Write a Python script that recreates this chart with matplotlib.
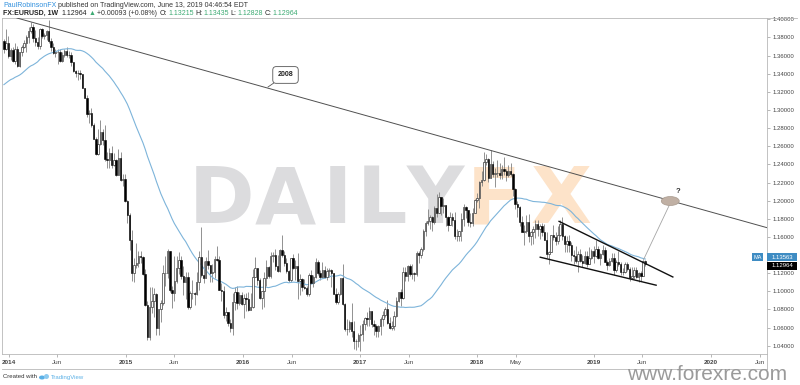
import numpy as np
import pandas as pd
import matplotlib
matplotlib.use('Agg')
import matplotlib.pyplot as plt
import matplotlib.dates as mdates
import matplotlib.transforms as mtransforms
from matplotlib.patches import Ellipse, Rectangle
from matplotlib.lines import Line2D

# ---- weekly EURUSD candles (week start 2013-12-16), open = previous close
first_open = 1.3763
close_2013 = [1.3674, 1.3743, 1.3590]
high_2013 = [1.3780, 1.3893, 1.3815]
low_2013 = [1.3626, 1.3657, 1.3573]

close_2014 = [1.3666, 1.3540, 1.3677, 1.3486, 1.3636, 1.3693, 1.3739, 1.3802,
              1.3873, 1.3913, 1.3790, 1.3749, 1.3704, 1.3888, 1.3812, 1.3832, 1.3870,
              1.3757, 1.3695, 1.3632, 1.3635, 1.3642, 1.3542, 1.3607, 1.3647, 1.3606,
              1.3605, 1.3525, 1.3431, 1.3413, 1.3410, 1.3398, 1.3242, 1.3131,
              1.2951, 1.2963, 1.2830, 1.2685, 1.2520, 1.2628, 1.2761, 1.2670, 1.2454,
              1.2446, 1.2526, 1.2389, 1.2452, 1.2288, 1.2466, 1.2228, 1.2239, 1.2001]
high_2014 = [1.3687, 1.3699, 1.3740, 1.3701, 1.3620, 1.3717, 1.3773, 1.3825,
             1.3914, 1.3967, 1.3946, 1.3877, 1.3810, 1.3906, 1.3905, 1.3852, 1.3886,
             1.3993, 1.3795, 1.3735, 1.3670, 1.3670, 1.3677, 1.3643, 1.3677, 1.3700,
             1.3646, 1.3635, 1.3533, 1.3444, 1.3439, 1.3444, 1.3397, 1.3230,
             1.3161, 1.2995, 1.3017, 1.2858, 1.2700, 1.2792, 1.2886, 1.2792, 1.2837,
             1.2532, 1.2577, 1.2600, 1.2530, 1.2456, 1.2570, 1.2533, 1.2292, 1.2290]
low_2014 = [1.3547, 1.3525, 1.3508, 1.3475, 1.3479, 1.3590, 1.3687, 1.3642,
            1.3737, 1.3850, 1.3749, 1.3703, 1.3671, 1.3673, 1.3792, 1.3784, 1.3772,
            1.3739, 1.3647, 1.3617, 1.3586, 1.3503, 1.3524, 1.3528, 1.3589, 1.3589,
            1.3573, 1.3490, 1.3421, 1.3367, 1.3333, 1.3345, 1.3238, 1.3129,
            1.2920, 1.2859, 1.2812, 1.2685, 1.2500, 1.2498, 1.2614, 1.2614, 1.2440,
            1.2357, 1.2358, 1.2359, 1.2380, 1.2269, 1.2280, 1.2220, 1.2165, 1.1989]

close_2015 = [1.1840, 1.1566, 1.1205, 1.1291, 1.1316, 1.1388, 1.1380, 1.1196,
              1.0844, 1.0495, 1.0822, 1.0889, 1.0971, 1.0601, 1.0808, 1.0873, 1.1197,
              1.1198, 1.1447, 1.1015, 1.0986, 1.1113, 1.1262, 1.1349, 1.1165, 1.1106,
              1.1159, 1.0829, 1.0983, 1.0985, 1.0969, 1.1106, 1.1384, 1.1185, 1.1149,
              1.1337, 1.1294, 1.1199, 1.1208, 1.1358, 1.1350, 1.1017, 1.1004,
              1.0740, 1.0768, 1.0646, 1.0592, 1.0882, 1.0989, 1.0868, 1.0964, 1.0862]
high_2015 = [1.2004, 1.1868, 1.1680, 1.1367, 1.1534, 1.1443, 1.1450, 1.1393,
             1.1246, 1.0890, 1.1043, 1.1052, 1.1036, 1.0982, 1.0810, 1.0899, 1.1290,
             1.1392, 1.1467, 1.1450, 1.1062, 1.1385, 1.1387, 1.1436, 1.1388, 1.1278,
             1.1216, 1.1215, 1.1000, 1.1128, 1.0996, 1.1215, 1.1440, 1.1714, 1.1332,
             1.1374, 1.1460, 1.1285, 1.1300, 1.1387, 1.1495, 1.1387, 1.1095,
             1.1059, 1.0829, 1.0777, 1.0691, 1.0982, 1.1043, 1.1060, 1.0993, 1.0988]
low_2015 = [1.1754, 1.1460, 1.1114, 1.1098, 1.1262, 1.1270, 1.1316, 1.1175,
            1.0840, 1.0462, 1.0462, 1.0763, 1.0713, 1.0520, 1.0520, 1.0660, 1.0850,
            1.1063, 1.1150, 1.0990, 1.0818, 1.0890, 1.1090, 1.1186, 1.1134, 1.0955,
            1.0916, 1.0808, 1.0807, 1.0912, 1.0848, 1.0960, 1.1015, 1.1155, 1.1087,
            1.1145, 1.1250, 1.1104, 1.1105, 1.1147, 1.1340, 1.1016, 1.0897,
            1.0706, 1.0673, 1.0617, 1.0557, 1.0524, 1.0796, 1.0804, 1.0848, 1.0852]

close_2016 = [1.0923, 1.0915, 1.0797, 1.0831, 1.1156, 1.1257, 1.1130, 1.0932, 1.1006,
              1.1152, 1.1268, 1.1165, 1.1393, 1.1398, 1.1283, 1.1225, 1.1455,
              1.1398, 1.1312, 1.1224, 1.1129, 1.1365, 1.1252, 1.1278, 1.1117, 1.1137,
              1.1050, 1.1036, 1.0975, 1.1175, 1.1088, 1.1161, 1.1324, 1.1197, 1.1153,
              1.1232, 1.1153, 1.1228, 1.1238, 1.1200, 1.0971, 1.0887, 1.0974, 1.1143,
              1.0856, 1.0587, 1.0588, 1.0662, 1.0561, 1.0451, 1.0454, 1.0517]
high_2016 = [1.0971, 1.0986, 1.0990, 1.0985, 1.1245, 1.1376, 1.1217, 1.1150, 1.1007,
             1.1218, 1.1342, 1.1276, 1.1438, 1.1434, 1.1464, 1.1399, 1.1463,
             1.1616, 1.1448, 1.1368, 1.1237, 1.1368, 1.1416, 1.1347, 1.1427, 1.1186,
             1.1143, 1.1131, 1.1061, 1.1198, 1.1236, 1.1176, 1.1366, 1.1342, 1.1240,
             1.1327, 1.1283, 1.1257, 1.1258, 1.1250, 1.1200, 1.1040, 1.0990, 1.1146,
             1.1300, 1.0867, 1.0694, 1.0684, 1.0874, 1.0670, 1.0474, 1.0539]
low_2016 = [1.0711, 1.0778, 1.0778, 1.0804, 1.0813, 1.1155, 1.1067, 1.0921, 1.0810,
            1.0822, 1.1058, 1.1143, 1.1145, 1.1327, 1.1233, 1.1218, 1.1217,
            1.1383, 1.1283, 1.1200, 1.1100, 1.1099, 1.1251, 1.1130, 1.0912, 1.0957,
            1.0999, 1.1021, 1.0951, 1.0953, 1.1087, 1.1045, 1.1146, 1.1180, 1.1121,
            1.1150, 1.1147, 1.1123, 1.1161, 1.1048, 1.0969, 1.0860, 1.0859, 1.0963,
            1.0848, 1.0568, 1.0517, 1.0552, 1.0500, 1.0366, 1.0352, 1.0389]

close_2017 = [1.0531, 1.0642, 1.0703, 1.0696, 1.0784, 1.0641, 1.0613, 1.0561, 1.0620,
              1.0700, 1.0738, 1.0800, 1.0653, 1.0591, 1.0616, 1.0726, 1.0897,
              1.0997, 1.0932, 1.1208, 1.1169, 1.1283, 1.1196, 1.1198, 1.1196, 1.1426,
              1.1400, 1.1471, 1.1666, 1.1754, 1.1776, 1.1819, 1.1761, 1.1924, 1.1860,
              1.2036, 1.1944, 1.1951, 1.1815, 1.1731, 1.1820, 1.1786, 1.1606, 1.1612,
              1.1665, 1.1793, 1.1931, 1.1899, 1.1768, 1.1750, 1.1865, 1.2005]
high_2017 = [1.0629, 1.0685, 1.0718, 1.0776, 1.0829, 1.0781, 1.0680, 1.0636, 1.0630,
             1.0714, 1.0782, 1.0825, 1.0906, 1.0718, 1.0678, 1.0778, 1.0939,
             1.0997, 1.1023, 1.1264, 1.1268, 1.1285, 1.1296, 1.1296, 1.1215, 1.1445,
             1.1445, 1.1489, 1.1683, 1.1777, 1.1910, 1.1846, 1.1826, 1.1940, 1.2070,
             1.2092, 1.2033, 1.2034, 1.1955, 1.1832, 1.1880, 1.1860, 1.1880, 1.1690,
             1.1668, 1.1861, 1.1961, 1.1940, 1.1900, 1.1862, 1.1914, 1.2023]
low_2017 = [1.0340, 1.0454, 1.0578, 1.0620, 1.0618, 1.0604, 1.0521, 1.0494, 1.0494,
            1.0524, 1.0614, 1.0718, 1.0640, 1.0589, 1.0571, 1.0569, 1.0720,
            1.0877, 1.0838, 1.0920, 1.1109, 1.1116, 1.1171, 1.1131, 1.1118, 1.1165,
            1.1312, 1.1369, 1.1445, 1.1612, 1.1729, 1.1688, 1.1662, 1.1742, 1.1823,
            1.1867, 1.1838, 1.1860, 1.1718, 1.1668, 1.1729, 1.1717, 1.1574, 1.1554,
            1.1553, 1.1553, 1.1716, 1.1810, 1.1717, 1.1713, 1.1718, 1.1860]

close_2018 = [1.2032, 1.2201, 1.2223, 1.2427, 1.2459, 1.2252, 1.2404, 1.2295, 1.2310,
              1.2307, 1.2288, 1.2352, 1.2323, 1.2281, 1.2331, 1.2289, 1.2131, 1.1960,
              1.1932, 1.1767, 1.1654, 1.1660, 1.1768, 1.1610, 1.1655, 1.1684,
              1.1745, 1.1686, 1.1719, 1.1659, 1.1566, 1.1411, 1.1439, 1.1621, 1.1598,
              1.1553, 1.1625, 1.1746, 1.1605, 1.1524, 1.1560, 1.1513, 1.1402, 1.1389,
              1.1336, 1.1417, 1.1339, 1.1313, 1.1394, 1.1305, 1.1369, 1.1443]
high_2018 = [1.2089, 1.2218, 1.2324, 1.2537, 1.2520, 1.2468, 1.2556, 1.2438, 1.2356,
             1.2446, 1.2413, 1.2388, 1.2476, 1.2345, 1.2396, 1.2414, 1.2302, 1.2145,
             1.2000, 1.1938, 1.1831, 1.1727, 1.1840, 1.1852, 1.1661, 1.1720,
             1.1791, 1.1791, 1.1746, 1.1751, 1.1739, 1.1649, 1.1446, 1.1623, 1.1735,
             1.1650, 1.1721, 1.1791, 1.1815, 1.1624, 1.1609, 1.1621, 1.1548, 1.1455,
             1.1500, 1.1440, 1.1472, 1.1402, 1.1444, 1.1442, 1.1486, 1.1472]
low_2018 = [1.1983, 1.1916, 1.2165, 1.2215, 1.2390, 1.2206, 1.2250, 1.2259, 1.2154,
            1.2260, 1.2240, 1.2240, 1.2285, 1.2214, 1.2260, 1.2270, 1.2055, 1.1911,
            1.1821, 1.1716, 1.1652, 1.1510, 1.1645, 1.1541, 1.1508, 1.1527,
            1.1591, 1.1614, 1.1575, 1.1615, 1.1562, 1.1365, 1.1301, 1.1429, 1.1569,
            1.1508, 1.1527, 1.1612, 1.1571, 1.1432, 1.1432, 1.1432, 1.1335, 1.1302,
            1.1314, 1.1216, 1.1325, 1.1267, 1.1300, 1.1269, 1.1300, 1.1360]

close_2019 = [1.1393, 1.1467, 1.1365, 1.1407, 1.1456, 1.1326, 1.1295, 1.1337, 1.1365,
              1.1236, 1.1326, 1.1306, 1.1218, 1.1216, 1.1296, 1.1245, 1.1149, 1.1174,
              1.1236, 1.1158, 1.1204, 1.1170, 1.1332, 1.12964]
high_2019 = [1.1498, 1.1570, 1.1500, 1.1419, 1.1514, 1.1488, 1.1343, 1.1372, 1.1420,
             1.1419, 1.1345, 1.1448, 1.1326, 1.1255, 1.1324, 1.1324, 1.1265, 1.1265,
             1.1264, 1.1264, 1.1214, 1.1223, 1.1348, 1.13435]
low_2019 = [1.1309, 1.1380, 1.1353, 1.1290, 1.1405, 1.1325, 1.1233, 1.1276, 1.1327,
            1.1176, 1.1214, 1.1274, 1.1176, 1.1183, 1.1198, 1.1227, 1.1111, 1.1135,
            1.1135, 1.1150, 1.1106, 1.1116, 1.1165, 1.12828]

# closes before the chart window, only used to seed the 40-week MA
pre_close = [1.2987, 1.2819, 1.2995, 1.3113, 1.3048, 1.3030, 1.3115, 1.2987, 1.2837,
             1.2930, 1.3005, 1.3222, 1.3345, 1.3120, 1.3010, 1.2830, 1.3068, 1.3142,
             1.3278, 1.3278, 1.3343, 1.3334, 1.3382, 1.3222, 1.3180, 1.3301, 1.3525,
             1.3524, 1.3555, 1.3556, 1.3680, 1.3802, 1.3486, 1.3365, 1.3498, 1.3555,
             1.3590, 1.3705, 1.3745]
ma_len = 40

# drawings (date, price)
trend_2008 = (['2014-01-29', '2020-06-24'], [1.4011, 1.1702])
wedge_top = (['2018-09-12', '2019-09-06'], [1.1775, 1.1155])
wedge_bot = (['2018-07-15', '2019-07-16'], [1.1378, 1.1066])
proj_line = (['2019-06-04', '2019-08-24'], [1.1345, 1.1950])
target = ('2019-08-27', 1.1996)

tick_dates = ['2014-01-01', '2014-06-01', '2015-01-01', '2015-06-01', '2016-01-01',
              '2016-06-01', '2017-01-01', '2017-06-01', '2018-01-01', '2018-05-01',
              '2019-01-01', '2019-06-01', '2020-01-01', '2020-06-01']
tick_labels = ['2014', 'Jun', '2015', 'Jun', '2016', 'Jun', '2017', 'Jun', '2018', 'May',
               '2019', 'Jun', '2020', 'Jun']

close = np.array(close_2013 + close_2014 + close_2015 + close_2016 + close_2017 + close_2018 + close_2019)
high = np.array(high_2013 + high_2014 + high_2015 + high_2016 + high_2017 + high_2018 + high_2019)
low = np.array(low_2013 + low_2014 + low_2015 + low_2016 + low_2017 + low_2018 + low_2019)
opn = np.concatenate([[first_open], close[:-1]])
high = np.maximum(high, np.maximum(opn, close))
low = np.minimum(low, np.minimum(opn, close))
dates = pd.date_range('2013-12-16', periods=len(close), freq='7D')
x = mdates.date2num(dates)
ma = pd.Series(pre_close + list(close)).rolling(ma_len).mean().values[len(pre_close):]

def dn(s):
    return mdates.date2num(pd.Timestamp(s))

W, H = 800, 385
FONT = ['Liberation Sans', 'DejaVu Sans']
fig = plt.figure(figsize=(8, 3.85), dpi=100)
ax = fig.add_axes([2 / W, 1 - 354 / H, 765 / W, 336 / H])
ax.set_xlim(dn('2013-12-10'), dn('2020-06-24'))
ax.set_ylim(1.0309, 1.40143)

# watermark, one letter at a time (centre x in px)
for ch, cx, col in (('D', 222, '#dcdcde'), ('A', 285, '#dcdcde'), ('I', 337, '#dcdcde'),
                    ('L', 382, '#dcdcde'), ('Y', 435, '#dcdcde'),
                    ('F', 494, '#fde3c9'), ('X', 561, '#fde3c9')):
    ax.text(cx / W, 1 - 223 / H, ch, transform=fig.transFigure, fontsize=57, ha='center',
            fontweight='bold', color=col, zorder=0, family='DejaVu Sans')

# candles
up = close >= opn
ax.vlines(x, low, high, color='#808080', lw=0.6, zorder=2)
ax.bar(x[up], (close - opn)[up], bottom=opn[up], width=4.5, color='white',
       edgecolor='#3a3a3a', lw=0.5, zorder=3)
ax.bar(x[~up], (close - opn)[~up], bottom=opn[~up], width=4.5, color='black',
       edgecolor='black', lw=0.4, zorder=3)
ax.plot(x, ma, color='#7db4da', lw=0.8, zorder=2.5)

# drawings
ax.axline((dn(trend_2008[0][0]), trend_2008[1][0]), (dn(trend_2008[0][1]), trend_2008[1][1]),
          color='#505050', lw=0.7, zorder=4)
for d, p in (wedge_top, wedge_bot):
    ax.plot([dn(d[0]), dn(d[1])], p, color='#111111', lw=1.0, zorder=4, solid_capstyle='butt')
ax.plot([dn(proj_line[0][0]), dn(proj_line[0][1])], proj_line[1], color='#a5a5a5', lw=0.6, zorder=4)
ax.add_patch(Ellipse((dn(target[0]), target[1]), 56, 0.0099, facecolor='#c0b0a4',
                     edgecolor='#a89a8e', lw=0.5, zorder=5))
ax.text(dn('2019-09-19'), 1.2099, '?', fontsize=5.5, fontweight='bold', color='#333333',
        ha='center', va='center', zorder=5, family=FONT)
ax.annotate('2008', xy=(dn('2016-03-19'), 1.3253), xytext=(dn('2016-05-13'), 1.3386),
            ha='center', va='center', fontsize=5, fontweight='bold', family=FONT, color='#222222',
            bbox=dict(boxstyle='round,pad=0.7,rounding_size=0.5', fc='white', ec='#555555', lw=0.6),
            arrowprops=dict(arrowstyle='-', color='#555555', lw=0.6, shrinkA=0, shrinkB=0), zorder=6)

# axes styling
for s in ax.spines.values():
    s.set_color('#b8b8b8')
    s.set_linewidth(0.6)
ax.set_xticks([dn(d) for d in tick_dates])
ax.set_xticklabels(tick_labels, fontsize=4.6, color='#444444', family=FONT)
for lab in ax.get_xticklabels():
    if lab.get_text().isdigit():
        lab.set_fontweight('bold')
ax.tick_params(axis='x', length=2, width=0.5, color='#9a9a9a', pad=2.5)
ax.yaxis.tick_right()
yt = np.arange(1.04, 1.4001, 0.02)
ax.set_yticks(yt)
ax.set_yticklabels(['%.5f' % v for v in yt], fontsize=4.3, color='#444444', family=FONT)
ax.tick_params(axis='y', length=2.2, width=0.5, color='#9a9a9a', pad=1.6)

# price labels on the scale
trans = mtransforms.blended_transform_factory(ax.transAxes, ax.transData)
bh = 0.0044
for val, yc, col in ((ma[-1], ma[-1] + 0.0022, '#3e8cc3'), (close[-1], close[-1] - 0.0015, '#000000')):
    ax.add_patch(Rectangle((1.0, yc - bh), 30 / 765, 2 * bh, transform=trans, clip_on=False,
                           facecolor=col, edgecolor='none', zorder=10))
    ax.text(1.0 + 15 / 765, yc, '%.5f' % val, transform=trans, clip_on=False, ha='center',
            va='center', fontsize=4.3, color='white', family=FONT, zorder=11)
ax.add_patch(Rectangle((1.0 - 15.3 / 765, ma[-1] + 0.0022 - bh), 11.6 / 765, 2 * bh, transform=trans,
                       clip_on=False, facecolor='#3e8cc3', edgecolor='none', zorder=10))
ax.text(1.0 - 9.5 / 765, ma[-1] + 0.0022, 'MA', transform=trans, clip_on=False, ha='center',
        va='center', fontsize=4.0, color='white', family=FONT, zorder=11)

# frame pieces outside the axes
for xs, ys in (([2, 767], [369, 369]), ([767, 767], [354, 369]), ([767, 797], [18, 18])):
    fig.add_artist(Line2D([v / W for v in xs], [1 - v / H for v in ys], color='#b8b8b8', lw=0.6))

# header and footer text
renderer = fig.canvas.get_renderer()

def put_line(x0, y0, parts, size):
    xp = x0
    for s, c, w, gap in parts:
        t = fig.text(xp / W, 1 - y0 / H, s, color=c, fontweight=w, fontsize=size,
                     va='center', ha='left', family=FONT)
        xp = t.get_window_extent(renderer=renderer).x1 + gap
    return xp

green = '#3daa73'
put_line(3, 5.3, [('PaulRobinsonFX', '#2f8fdd', 'normal', 1.5),
                  ('published on TradingView.com, June 13, 2019 04:46:54 EDT', '#333333', 'normal', 0)], 5)
put_line(3, 13.3, [('FX:EURUSD, 1W', '#222222', 'bold', 3),
                   ('1.12964', '#222222', 'normal', 2),
                   ('\u25b2', green, 'normal', 1.5),
                   ('+0.00093 (+0.08%)', '#333333', 'normal', 3),
                   ('O:', '#222222', 'normal', 0.5), ('1.13215', green, 'normal', 2),
                   ('H:', '#222222', 'normal', 0.5), ('1.13435', green, 'normal', 2),
                   ('L:', '#222222', 'normal', 0.5), ('1.12828', green, 'normal', 2),
                   ('C:', '#222222', 'normal', 0.5), ('1.12964', green, 'normal', 0)], 5)
xe = put_line(3, 377, [('Created with', '#333333', 'normal', 0)], 4.3)
# small TradingView mark
fig.add_artist(Ellipse(((xe + 5) / W, 1 - 377.5 / H), 6 / W, 4 / H, facecolor='#5ab0e6', edgecolor='none'))
fig.add_artist(Ellipse(((xe + 9.5) / W, 1 - 376.5 / H), 5 / W, 5 / H, facecolor='#8dcaf0', edgecolor='none'))
put_line(xe + 14, 377, [('TradingView', '#5ab0e6', 'normal', 0)], 4.3)
fig.text(627 / W, 1 - 380 / H, 'www.forexre.com', fontsize=15, color='#9a9a9a',
         ha='left', va='baseline', family=FONT)

fig.savefig('out.png', dpi=100)
